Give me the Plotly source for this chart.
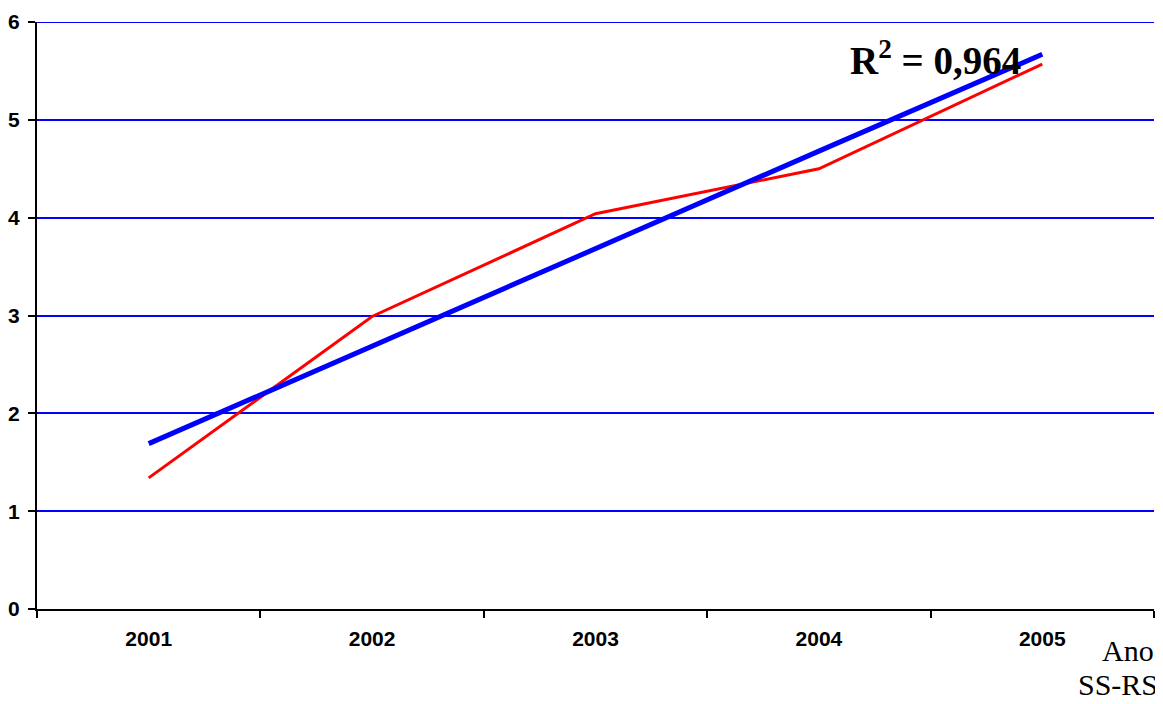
import plotly.graph_objects as go

years = ["2001", "2002", "2003", "2004", "2005"]
values = [1.34, 2.99, 4.04, 4.50, 5.57]
trend = [1.69, 2.69, 3.68, 4.68, 5.67]
y_ticks = [0, 1, 2, 3, 4, 5, 6]

fig = go.Figure()
fig.add_trace(go.Scatter(x=years, y=values, mode="lines",
                         line=dict(color="#FF0000", width=3), showlegend=False))
fig.add_trace(go.Scatter(x=years, y=trend, mode="lines",
                         line=dict(color="#0000FF", width=5), showlegend=False))

# page has an 8px body margin; figure coordinates are offset by it
OFF = 8
W, H = 1163 - OFF, 704 - OFF
L, R, T, B = 37 - OFF, 9, 22 - OFF, 95
pw, ph = W - L - R, H - T - B

def px(x):
    return (x - OFF - L) / pw

def py(y):
    return (H - B - (y - OFF)) / ph

tick_font = dict(family="Liberation Sans", size=21, color="black", weight="bold")

fig.update_layout(
    width=W, height=H,
    margin=dict(l=L, r=R, t=T, b=B, autoexpand=False),
    plot_bgcolor="white", paper_bgcolor="white",
    xaxis=dict(type="category", tickson="boundaries", ticks="outside", ticklen=7,
               tickwidth=2, tickcolor="black", showline=True, linecolor="black",
               linewidth=2, showgrid=False, zeroline=False, automargin=False,
               tickfont=tick_font, range=[-0.5, 4.5], ticklabelstandoff=10),
    yaxis=dict(range=[0, 6], tickvals=y_ticks, ticks="outside", ticklen=7, tickwidth=2,
               tickcolor="black", showline=True, linecolor="black", linewidth=2,
               showgrid=True, gridcolor="#0000FF", gridwidth=2, zeroline=False,
               automargin=False, tickfont=tick_font, ticklabelstandoff=4),
    shapes=[dict(type="line", xref="paper", yref="y", x0=0, x1=1,
                 y0=y_ticks[-1], y1=y_ticks[-1], layer="below",
                 line=dict(color="#0000FF", width=2))],
    annotations=[
        dict(text="<b>R<sup>2</sup> = 0,964</b>", xref="paper", yref="paper",
             x=px(848), y=py(58), xanchor="left", yanchor="middle", showarrow=False,
             font=dict(family="Liberation Serif", size=39, color="black")),
        dict(text="Ano", xref="paper", yref="paper", x=px(1156), y=py(650),
             xanchor="right", yanchor="middle", showarrow=False,
             font=dict(family="Liberation Serif", size=30, color="black")),
        dict(text="SS-RS", xref="paper", yref="paper", x=px(1160), y=py(703),
             xanchor="right", yanchor="bottom", showarrow=False,
             font=dict(family="Liberation Serif", size=30, color="black")),
    ],
)

fig.write_html("out.html")
